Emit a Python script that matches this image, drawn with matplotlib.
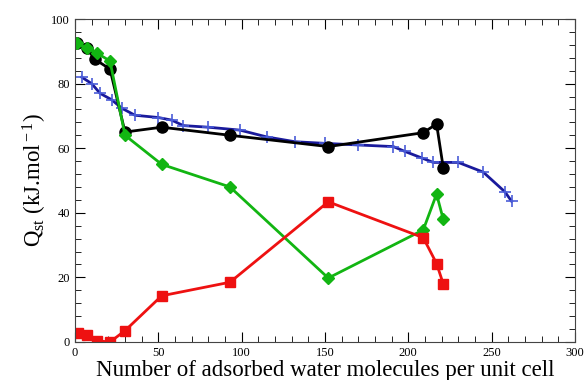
import numpy as np
import matplotlib
matplotlib.use("Agg")
import matplotlib.pyplot as plt
from matplotlib.ticker import MultipleLocator

plt.rcParams['font.family'] = ['Liberation Serif', 'DejaVu Serif']
plt.rcParams['mathtext.fontset'] = 'custom'
plt.rcParams['mathtext.rm'] = 'Liberation Serif'
plt.rcParams['mathtext.it'] = 'Liberation Serif:italic'

# black circles
x_black = [1, 7, 12, 21, 30, 52, 93, 152, 209, 217, 221]
y_black = [92.5, 91, 87.5, 84.5, 65, 66.5, 64, 60.5, 64.8, 67.5, 54]

# green diamonds
x_green = [1, 7, 13, 21, 30, 52, 93, 152, 209, 217, 221]
y_green = [92.5, 91, 89.5, 87, 64, 55, 48, 19.8, 34.7, 45.8, 38]

# red squares
x_red = [2, 7, 13, 21, 30, 52, 93, 152, 209, 217, 221]
y_red = [2.7, 2.3, 0.4, 0, 3.5, 14.3, 18.5, 43.4, 32.3, 24.3, 18]

# blue crosses
x_blue = [4, 10, 15, 22, 28, 36, 50, 58, 65, 80, 99, 115, 132, 150, 170,
          191, 198, 208, 215, 230, 245, 258, 262]
y_blue = [82, 80, 77, 75, 72.4, 70.2, 69.5, 68.7, 67, 66.5, 65.6, 63.5, 62,
          61.5, 61, 60.5, 59, 57, 55.6, 55.6, 52.6, 46.5, 43.6]

fig = plt.figure(figsize=(5.86, 3.8), dpi=100)
ax = fig.add_axes([0.128, 0.1, 0.853, 0.85])

ax.plot(x_blue, y_blue, color="#1a1a9c", lw=2, marker="+", ms=9,
        mec="#4a5cd8", mew=1.2)
ax.plot(x_black, y_black, color="black", lw=2, marker="o", ms=8)
ax.plot(x_green, y_green, color="#12b512", lw=2, marker="D", ms=6)
ax.plot(x_red, y_red, color="#ee1111", lw=2, marker="s", ms=7)

ax.set_xlim(0, 300)
ax.set_ylim(0, 100)
ax.xaxis.set_major_locator(MultipleLocator(50))
ax.xaxis.set_minor_locator(MultipleLocator(10))
ax.yaxis.set_major_locator(MultipleLocator(20))
ax.yaxis.set_minor_locator(MultipleLocator(4))
ax.tick_params(which="both", direction="in", top=True, right=True, labelsize=9)
ax.tick_params(which="major", length=7)
ax.tick_params(which="minor", length=4)
for s in ax.spines.values():
    s.set_color("#444444")

ax.set_xlabel("Number of adsorbed water molecules per unit cell", fontsize=16.5, labelpad=1)
ax.set_ylabel(r"Q$_{\rm st}$ (kJ.mol$^{\rm -1}$)", fontsize=16.5, labelpad=2)

fig.savefig("out.png", dpi=100)
